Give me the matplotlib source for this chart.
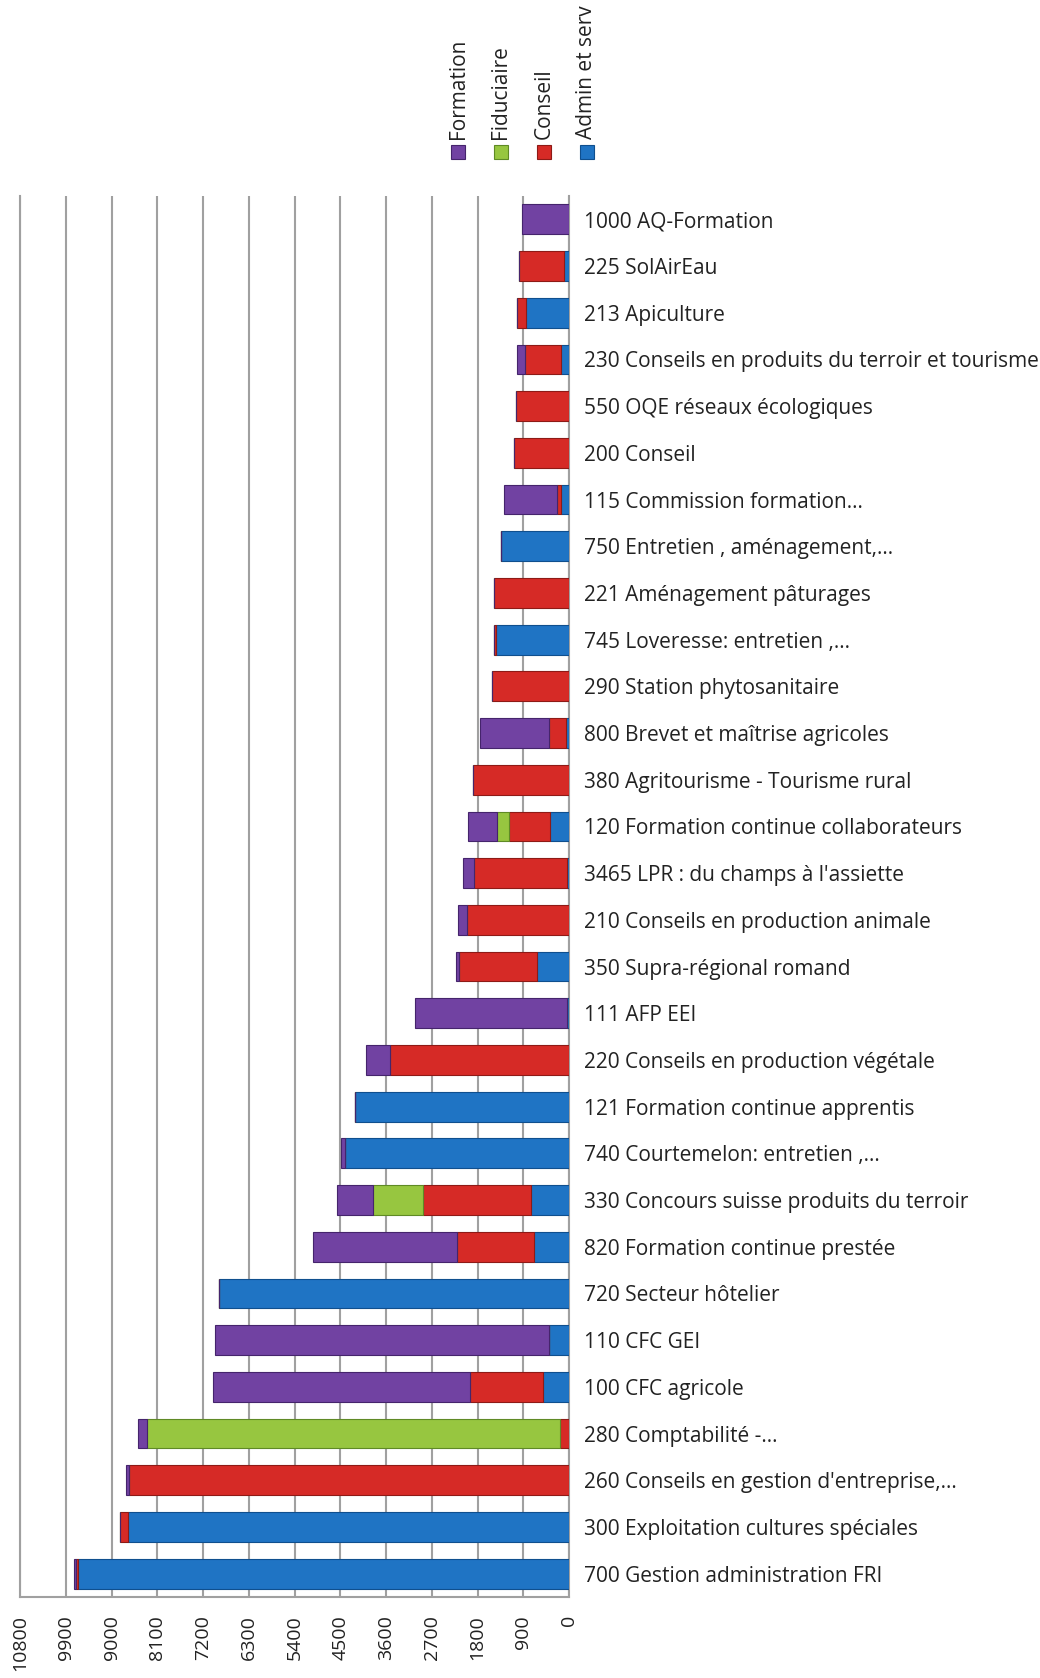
import matplotlib
matplotlib.use("Agg")
import matplotlib.pyplot as plt
import numpy as np
from matplotlib.patches import Rectangle

plt.rcParams['font.family'] = ['Open Sans', 'DejaVu Sans']

categories = [
    "1000 AQ-Formation",
    "225 SolAirEau",
    "213 Apiculture",
    "230 Conseils en produits du terroir et tourisme",
    "550 OQE réseaux écologiques",
    "200 Conseil",
    "115 Commission formation…",
    "750 Entretien , aménagement,…",
    "221 Aménagement pâturages",
    "745 Loveresse: entretien ,…",
    "290 Station phytosanitaire",
    "800 Brevet et maîtrise agricoles",
    "380 Agritourisme - Tourisme rural",
    "120 Formation continue collaborateurs",
    "3465 LPR : du champs à l'assiette",
    "210 Conseils en production animale",
    "350 Supra-régional romand",
    "111 AFP EEI",
    "220 Conseils en production végétale",
    "121 Formation continue apprentis",
    "740 Courtemelon: entretien ,…",
    "330 Concours suisse produits du terroir",
    "820 Formation continue prestée",
    "720 Secteur hôtelier",
    "110 CFC GEI",
    "100 CFC agricole",
    "280 Comptabilité -…",
    "260 Conseils en gestion d'entreprise,…",
    "300 Exploitation cultures spéciales",
    "700 Gestion administration FRI",
]

admin_serv = [0, 100, 850, 150, 0, 0, 150, 1343, 0, 1442, 0, 65, 0, 380, 40,
              0, 620, 30, 0, 4210, 4406, 753, 688, 6888, 386, 507, 0, 0, 8677, 9652]
conseil = [0, 880, 170, 715, 1048, 1074, 80, 0, 1475, 30, 1515, 330, 1888, 800, 1830,
           2010, 1540, 0, 3521, 0, 0, 2111, 1507, 0, 0, 1436, 170, 8650, 150, 40]
fiduciaire = [0, 0, 0, 0, 0, 0, 0, 0, 0, 0, 0, 0, 0, 240, 0,
              0, 0, 0, 0, 0, 0, 983, 0, 0, 0, 0, 8128, 0, 0, 0]
formation = [917, 0, 0, 157, 0, 0, 1050, 0, 0, 0, 0, 1363, 0, 565, 222,
             170, 65, 2998, 472, 0, 85, 708, 2832, 0, 6570, 5061, 183, 55, 0, 40]

series_names = ["Formation", "Fiduciaire", "Conseil", "Admin et serv"]
xticks = [0, 900, 1800, 2700, 3600, 4500, 5400, 6300, 7200, 8100, 9000, 9900, 10800]

colors = {"Admin et serv": "#1f74c4", "Conseil": "#d62a26",
          "Fiduciaire": "#97c640", "Formation": "#7142a2"}
edges = {"Admin et serv": "#0f4f8e", "Conseil": "#8e1a16",
         "Fiduciaire": "#5f8a25", "Formation": "#45246c"}

fig = plt.figure(figsize=(10.40, 16.78), dpi=100)
ax = fig.add_axes([20/1040, (1678-1597)/1678, 549/1040, (1597-196)/1678])

y = np.arange(len(categories))
left = np.zeros(len(categories))
stack = [("Admin et serv", admin_serv), ("Conseil", conseil),
         ("Fiduciaire", fiduciaire), ("Formation", formation)]
for name, vals in stack:
    vals = np.array(vals, dtype=float)
    ax.barh(y, vals, left=left, height=0.64, color=colors[name],
            edgecolor=edges[name], linewidth=0.8, zorder=3)
    left += vals

ax.set_xlim(10800, 0)
ax.set_ylim(len(categories) - 0.5, -0.5)
ax.set_xticks(xticks)
ax.set_xticklabels([str(t) for t in xticks], rotation=90, fontsize=14, color="#222222")
ax.tick_params(axis='x', length=0, pad=13)
for lab in ax.get_xticklabels():
    lab.set_verticalalignment('top')

ax.set_yticks(y)
ax.set_yticklabels(categories, fontsize=15, color="#222222")
ax.yaxis.tick_right()
ax.tick_params(axis='y', length=0, pad=11)

ax.grid(axis='x', color="#a0a0a0", linewidth=1.5, zorder=0)
ax.set_axisbelow(True)
ax.spines['top'].set_visible(False)
for s in ['left', 'right', 'bottom']:
    ax.spines[s].set_color("#a0a0a0")
    ax.spines[s].set_linewidth(1.5)

# legend (rotated)
leg_x = [458, 501, 544, 587]
for name, lx in zip(series_names, leg_x):
    fig.patches.append(Rectangle(((lx - 7) / 1040, (1678 - 159) / 1678), 14 / 1040, 14 / 1678,
                                 transform=fig.transFigure, facecolor=colors[name],
                                 edgecolor=edges[name], linewidth=0.8))
    fig.text(lx / 1040, (1678 - 139) / 1678, name, rotation=90, ha='center', va='bottom',
             fontsize=15, color="#222222")

fig.savefig("out.png", dpi=100)
